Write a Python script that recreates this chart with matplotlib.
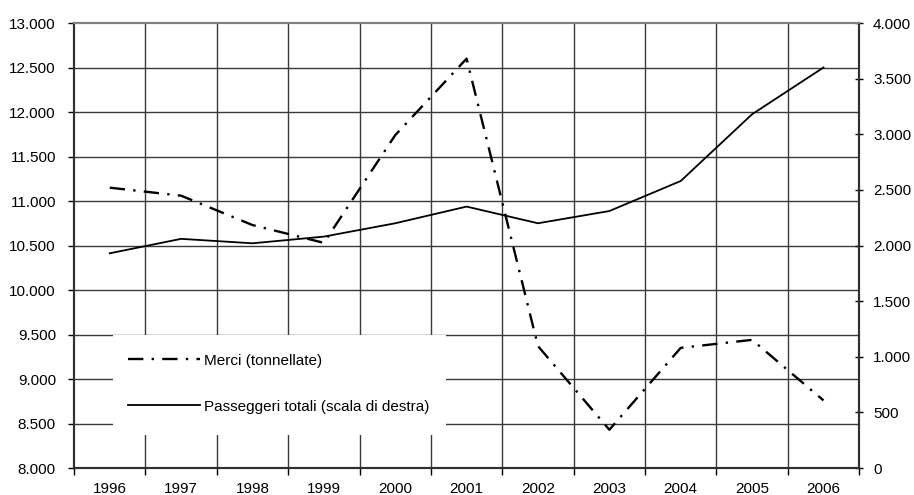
import matplotlib.pyplot as plt
import matplotlib.ticker as mticker
import matplotlib.lines as mlines
import matplotlib.patches as mpatches

plt.rcParams['font.family'] = ['Liberation Sans', 'DejaVu Sans']

years = ['1996', '1997', '1998', '1999', '2000', '2001',
         '2002', '2003', '2004', '2005', '2006']
merci = [11150, 11060, 10730, 10530, 11740, 12600,
         9370, 8430, 9350, 9440, 8760]
passeggeri = [1930, 2060, 2020, 2080, 2200, 2350,
              2200, 2310, 2580, 3180, 3600]


def dot_fmt(v, pos):
    return '{:,}'.format(int(round(v))).replace(',', '.')


fig = plt.figure(figsize=(9.14, 4.95), dpi=100)
ax = fig.add_axes([0.081, 0.0545, 0.859, 0.899])
ax2 = ax.twinx()

x = list(range(len(years)))
grid_col = '#3a3a3a'
fs = 11

# left axis: merci
ax.set_xlim(-0.5, len(years) - 0.5)
ax.set_ylim(8000, 13000)
ax.set_yticks(range(8000, 13001, 500))
ax.yaxis.set_major_formatter(mticker.FuncFormatter(dot_fmt))
ax.set_xticks(x)
ax.set_xticklabels(years)
ax.set_xticks([i + 0.5 for i in range(-1, len(years))], minor=True)

# grid: horizontal at left ticks, vertical between categories
for yv in range(8500, 13000, 500):
    ax.axhline(yv, color=grid_col, lw=1.0, zorder=1)
for i in range(len(years) - 1):
    ax.axvline(i + 0.5, color=grid_col, lw=1.0, zorder=1)

# white box behind the legend
ax.add_patch(mpatches.Rectangle((0.05, 0.074), 0.424, 0.225,
                                transform=ax.transAxes, facecolor='white',
                                edgecolor='none', zorder=2))

merci_ls = (0, (6.5, 3.5, 1, 3.5))
ax.plot(x, merci, color='black', lw=1.7, linestyle=merci_ls, zorder=3)

# right axis: passeggeri
ax2.set_ylim(0, 4000)
ax2.set_yticks(range(0, 4001, 500))
ax2.yaxis.set_major_formatter(mticker.FuncFormatter(dot_fmt))
ax2.plot(x, passeggeri, color='black', lw=1.3, zorder=3)

# spines and ticks
for a in (ax, ax2):
    a.spines['top'].set_color('#808080')
    a.spines['top'].set_linewidth(1.5)
    for s in ('left', 'right', 'bottom'):
        a.spines[s].set_color('#303030')
        a.spines[s].set_linewidth(1.5)

ax.tick_params(axis='y', direction='out', length=4, width=1, pad=9,
               labelsize=fs, colors='black')
ax.tick_params(axis='x', which='major', length=0, pad=10, labelsize=fs)
ax.tick_params(axis='x', which='minor', direction='out', length=5, width=1)
ax2.tick_params(axis='y', direction='inout', length=6, width=1, pad=7,
                labelsize=fs)

# legend
h_merci = mlines.Line2D([], [], color='black', lw=1.7, linestyle=merci_ls)
h_pass = mlines.Line2D([], [], color='black', lw=1.3)
leg = ax2.legend([h_merci, h_pass],
                 ['Merci (tonnellate)', 'Passeggeri totali (scala di destra)'],
                 loc='upper left', bbox_to_anchor=(0.055, 0.281),
                 frameon=False, fontsize=fs, handlelength=4.7,
                 handletextpad=0.3, labelspacing=2.1, borderpad=0.2)

fig.savefig('out.png', dpi=100)
